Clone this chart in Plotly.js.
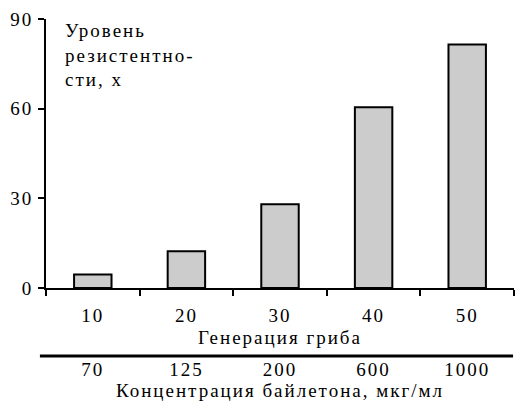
<!DOCTYPE html>
<html>
<head>
<meta charset="utf-8">
<script src="https://cdn.plot.ly/plotly-3.0.1.min.js"></script>
<style>html,body{margin:0;padding:0;background:#fff;}#chart{width:516px;height:403px;}
#chart svg text{letter-spacing:2px;}</style>
</head>
<body>
<div id="chart"></div>
<script>
const generations = ['10', '20', '30', '40', '50'];
const concentrations = ['70', '125', '200', '600', '1000'];
const resistance = [4.5, 12.3, 28, 60.5, 81.5];
const yTicks = [0, 30, 60, 90];

const FONT = "'Liberation Serif', serif";
const FS = 19;

const data = [{
  type: 'bar',
  x: generations,
  y: resistance,
  width: 0.4,
  marker: {color: '#cccccc', line: {color: '#000', width: 2}},
  hoverinfo: 'none'
}, {
  type: 'scatter', x: [0], y: [0], xaxis: 'x2', yaxis: 'y',
  mode: 'markers', marker: {opacity: 0}, hoverinfo: 'none'
}];

const layout = {
  width: 516,
  height: 403,
  margin: {l: 46, r: 2, t: 19, b: 47},
  paper_bgcolor: '#fff',
  plot_bgcolor: '#fff',
  showlegend: false,
  font: {family: FONT, size: FS, color: '#000'},
  xaxis: {
    type: 'category',
    range: [-0.5, 4.5],
    tickson: 'boundaries',
    ticks: 'outside',
    ticklen: 6,
    tickwidth: 2,
    tickcolor: '#000',
    ticklabelstandoff: 9,
    showline: true,
    linewidth: 2,
    linecolor: '#000',
    showgrid: false,
    zeroline: false,
    tickfont: {family: FONT, size: FS},
    title: {text: 'Генерация гриба', font: {family: FONT, size: FS}, standoff: 6},
    anchor: 'y',
    fixedrange: true
  },
  xaxis2: {
    overlaying: 'x',
    anchor: 'free',
    position: 0,
    range: [-0.5, 4.5],
    tickvals: [0, 1, 2, 3, 4],
    ticktext: concentrations,
    ticks: '',
    ticklabelstandoff: 0,
    showline: false,
    showgrid: false,
    zeroline: false,
    tickfont: {family: FONT, size: FS},
    title: {text: 'Концентрация байлетона, мкг/мл', font: {family: FONT, size: FS}, standoff: 0},
    fixedrange: true
  },
  yaxis: {
    domain: [0.2018, 1],
    range: [0, 90],
    tickvals: yTicks,
    ticks: 'outside',
    ticklen: 6,
    tickwidth: 2,
    tickcolor: '#000',
    ticklabelstandoff: 1,
    showline: true,
    linewidth: 2,
    linecolor: '#000',
    showgrid: false,
    zeroline: false,
    tickfont: {family: FONT, size: FS},
    fixedrange: true
  },
  shapes: [{
    type: 'line', xref: 'paper', yref: 'paper',
    x0: -0.013, x1: 0.998, y0: 0, y1: 0,
    line: {color: '#000', width: 3}
  }],
  annotations: [{
    xref: 'paper', yref: 'paper',
    x: 0.036, y: 1.002,
    xanchor: 'left', yanchor: 'top',
    align: 'left',
    showarrow: false,
    text: 'Уровень<br>резистентно-<br>сти, х',
    font: {family: FONT, size: FS, color: '#000'}
  }]
};

Plotly.newPlot('chart', data, layout, {displayModeBar: false, staticPlot: true});
</script>
</body>
</html>
